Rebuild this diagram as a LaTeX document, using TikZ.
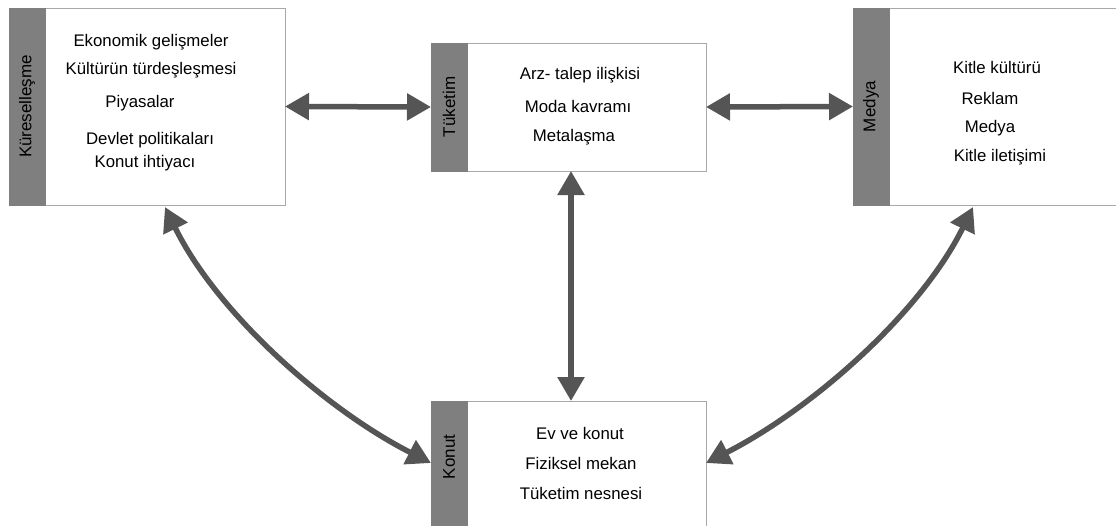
\documentclass[tikz,border=0pt]{standalone}
\usepackage{fontspec}
\setmainfont{Liberation Sans}
\usetikzlibrary{arrows.meta}
\definecolor{barc}{HTML}{7F7F7F}
\definecolor{arrc}{HTML}{555555}
\definecolor{edgec}{HTML}{A8A8A8}
\begin{document}
\begin{tikzpicture}[x=1pt,y=-1pt,
  box/.style={draw=edgec,line width=0.8pt,fill=white,inner sep=0pt,outer sep=0pt,anchor=north west},
  bar/.style={fill=barc,draw=barc,line width=0.5pt,inner sep=0pt,outer sep=0pt,anchor=north west,minimum width=36pt},
  lbl/.style={rotate=90,inner sep=0pt,font=\fontsize{17}{19}\selectfont},
  item/.style={inner sep=0pt,anchor=center,font=\fontsize{16.8}{19}\selectfont},
  arr/.style={draw=arrc,line width=5.5pt,{Triangle[length=24pt,width=26pt]}-{Triangle[length=24pt,width=26pt]}}]
\useasboundingbox (0,0) rectangle (1116,525);
% boxes
\node[box,minimum width=276pt,minimum height=197pt] (kur) at (9,8) {};
\node[bar,minimum height=197pt] (kurbar) at (9,8) {};
\node[lbl] (kurl) at (kurbar.center) {Küreselleşme};
\node[box,minimum width=275pt,minimum height=128pt] (tuk) at (431,43) {};
\node[bar,minimum height=128pt] (tukbar) at (431,43) {};
\node[lbl] (tukl) at (tukbar.center) {Tüketim};
\node[box,minimum width=263pt,minimum height=197pt] (med) at (853,8) {};
\node[bar,minimum height=197pt] (medbar) at (853,8) {};
\node[lbl] (medl) at (medbar.center) {Medya};
\node[box,minimum width=275pt,minimum height=130pt] (kon) at (431,401) {};
\node[bar,minimum height=130pt] (konbar) at (431,401) {};
\node[lbl] (konl) at ([yshift=-56pt]konbar.north) {Konut};
% items
\node[item] (k1) at (151,42) {Ekonomik gelişmeler};
\node[item] (k2) at (151,70) {Kültürün türdeşleşmesi};
\node[item] (k3) at (140,103) {Piyasalar};
\node[item] (k4) at (150,140) {Devlet politikaları};
\node[item] (k5) at (145,163) {Konut ihtiyacı};
\node[item] (t1) at (580,75) {Arz- talep ilişkisi};
\node[item] (t2) at (578,106) {Moda kavramı};
\node[item] (t3) at (574,137) {Metalaşma};
\node[item] (m1) at (997,67) {Kitle kültürü};
\node[item] (m2) at (990,98) {Reklam};
\node[item] (m3) at (990,128) {Medya};
\node[item] (m4) at (1000,157) {Kitle iletişimi};
\node[item] (n1) at (580,433) {Ev ve konut};
\node[item] (n2) at (581,463) {Fiziksel mekan};
\node[item] (n3) at (581,493) {Tüketim nesnesi};
% connectors
\draw[arr] (kur.east) -- (tuk.west);
\draw[arr] (tuk.east) -- (med.west);
\draw[arr] ([xshift=2.5pt]tuk.south) -- ([xshift=2.5pt]kon.north);
\draw[arr] ([xshift=156pt,yshift=-2pt]kur.south west) .. controls +(52,106) and +(-106,-54) .. ([yshift=-62pt]kon.north west);
\draw[arr] ([xshift=120pt,yshift=-2pt]med.south west) .. controls +(-52,106) and +(106,-54) .. ([yshift=-62pt]kon.north east);
\end{tikzpicture}
\end{document}
